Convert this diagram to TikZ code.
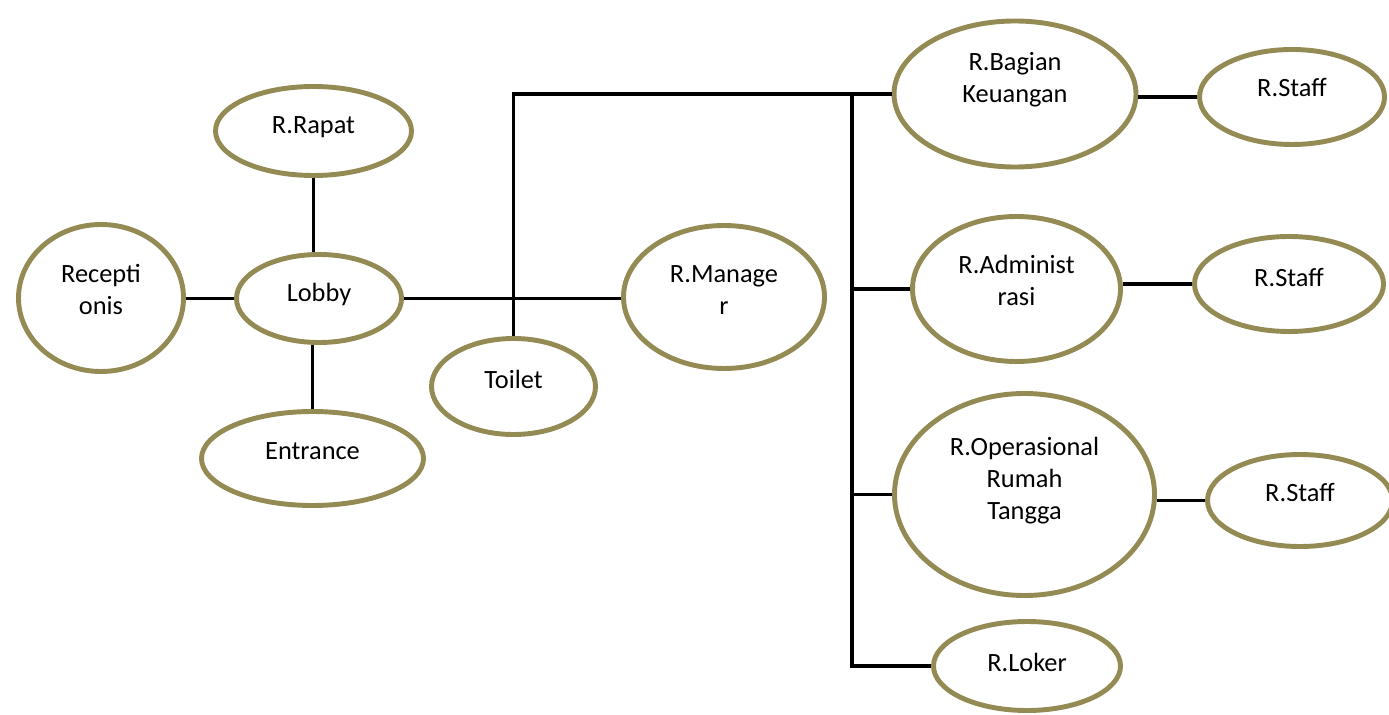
\documentclass[tikz,border=0pt]{standalone}
\usepackage{fontspec}
\setmainfont{Carlito}
\usetikzlibrary{shapes.geometric}
\definecolor{roomcol}{RGB}{148,138,84}
\tikzset{
  room/.style={draw=roomcol, line width=2.8pt, ellipse, inner sep=0pt},
  lbl/.style={align=center, font=\fontsize{15}{18.2}\selectfont, inner sep=0pt},
  conn/.style={line width=2pt}
}
\begin{document}
\begin{tikzpicture}
  \useasboundingbox (0,0) rectangle (27.78,-14.30);
	\node[room, minimum width=3.30cm, minimum height=2.94cm, label={[lbl,yshift=.18cm]center:Recepti\\onis}] (recep) at (2.02,-5.96) {};
	\node[room, minimum width=3.30cm, minimum height=1.76cm, label={[lbl,yshift=.08cm]center:Lobby}] (lobby) at (6.38,-5.97) {};
	\node[room, minimum width=3.92cm, minimum height=1.78cm, label={[lbl,yshift=.08cm]center:R.Rapat}] (rapat) at (6.27,-2.62) {};
	\node[room, minimum width=4.44cm, minimum height=1.88cm, label={[lbl,yshift=.14cm]center:Entrance}] (entrance) at (6.25,-9.17) {};
	\node[room, minimum width=3.28cm, minimum height=1.92cm, label={[lbl,yshift=.14cm]center:Toilet}] (toilet) at (10.27,-7.73) {};
	\node[room, minimum width=4.02cm, minimum height=2.86cm, label={[lbl,yshift=.14cm]center:R.Manage\\r}] (manager) at (14.48,-5.94) {};
	\node[room, minimum width=4.84cm, minimum height=2.92cm, label={[lbl,yshift=.28cm]center:R.Bagian\\Keuangan}] (bagian) at (20.30,-1.88) {};
	\node[room, minimum width=4.16cm, minimum height=2.90cm, label={[lbl,yshift=.18cm]center:R.Administ\\rasi}] (admin) at (20.33,-5.78) {};
	\node[room, minimum width=5.20cm, minimum height=4.04cm, label={[lbl,yshift=.27cm]center:R.Operasional\\Rumah\\Tangga}] (oper) at (20.49,-9.89) {};
	\node[room, minimum width=3.74cm, minimum height=1.78cm, label={[lbl,yshift=.08cm]center:R.Loker}] (loker) at (20.54,-13.32) {};
	\node[room, minimum width=3.70cm, minimum height=1.90cm, label={[lbl,yshift=.18cm]center:R.Staff}] (staffa) at (25.84,-1.94) {};
	\node[room, minimum width=3.78cm, minimum height=1.90cm, label={[lbl,yshift=.14cm]center:R.Staff}] (staffb) at (25.78,-5.68) {};
	\node[room, minimum width=3.70cm, minimum height=1.84cm, label={[lbl,yshift=.17cm]center:R.Staff}] (staffc) at (26.00,-10.01) {};
	\coordinate (spine) at (17.04,0);
	\draw [conn] (recep.east |- lobby.west) -- (lobby.west);
	\draw [conn] (rapat.south) -- (rapat.south |- lobby.north);
	\draw [conn] (entrance.north |- lobby.south) -- (entrance.north);
	\draw [conn] (lobby.east) -- (lobby.east -| manager.west);
	\draw [conn] (toilet.north) |- (bagian.west);
	\draw [conn] (spine |- bagian.west) -- (spine |- loker.west) -- (loker.west);
	\draw [conn] (spine |- admin.west) -- (admin.west);
	\draw [conn] (spine |- oper.west) -- (oper.west);
	\draw [conn] (bagian.east |- staffa.west) -- (staffa.west);
	\draw [conn] (admin.east |- staffb.west) -- (staffb.west);
	\draw [conn] (oper.east |- staffc.west) -- (staffc.west);
\end{tikzpicture}
\end{document}
